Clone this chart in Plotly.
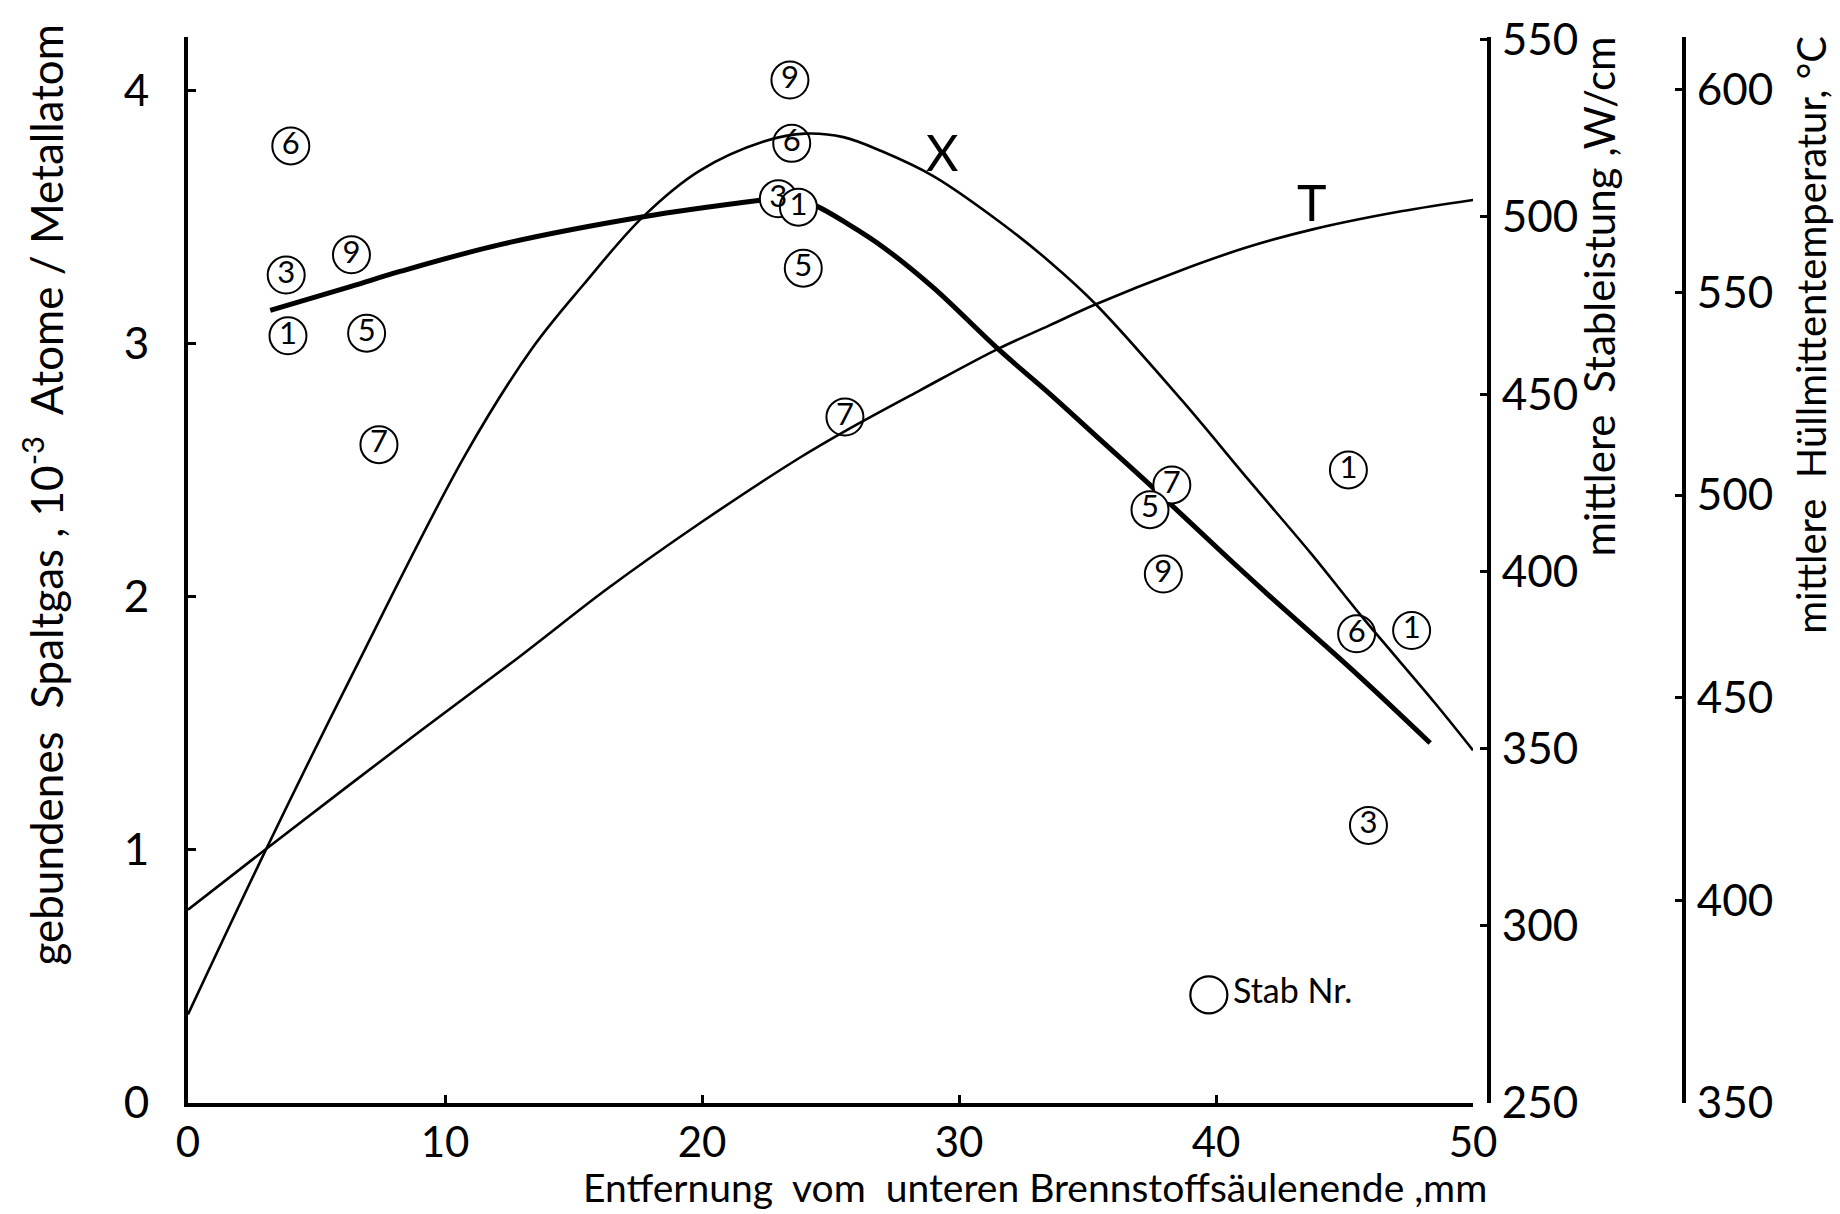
import plotly.graph_objects as go

FONT = "Lato, Roboto, sans-serif"

# bound fission gas fit curve (left axis, 10^-3 atoms per metal atom)
gas_x = [3.2, 6.35, 8.25, 12.14, 17.72, 22.26, 23.4, 24.4, 25.7, 27.05, 29.0,
         31.53, 33.54, 35.49, 37.43, 40.28, 42.0, 45.47, 48.33]
gas_y = [3.13, 3.225, 3.284, 3.39, 3.50, 3.565, 3.578, 3.545, 3.47, 3.38, 3.22,
         2.977, 2.80, 2.62, 2.441, 2.17, 2.01, 1.695, 1.422]

# mean linear rod power X (W/cm)
power_x = [0, 3.0, 6.4, 10.8, 13.4, 15.4, 17.7, 19.9, 22.5, 24.0, 25.5, 27.0,
           29.0, 31.6, 33.5, 35.3, 38.7, 41.3, 43.7, 45.7, 48.5, 50.0]
power_w = [275.0, 321.0, 371.0, 433.0, 463.0, 481.0, 500.0, 513.0, 521.5, 523.5,
           522.5, 518.5, 511.5, 498.5, 487.5, 475.5, 448.0, 425.5, 405.0, 387.0,
           363.0, 349.5]

# mean cladding mid-wall temperature T (deg C)
temp_x = [0, 3.0, 9.0, 13.0, 16.3, 20.0, 23.8, 25.6, 28.5, 31.5, 33.5, 35.3,
          38.7, 41.3, 43.8, 47.2, 50.0]
temp_c = [397.7, 412.5, 441.6, 460.6, 476.8, 493.4, 509.2, 515.9, 525.9, 536.0,
          541.8, 547.0, 555.6, 561.3, 565.6, 570.0, 572.8]

# measured values per rod number
stab_nr = ["6", "3", "9", "1", "5", "7",
           "9", "6", "3", "1", "5", "7",
           "7", "5", "9", "1", "6", "1", "3"]
stab_x = [4.0, 3.82, 6.36, 3.89, 6.95, 7.43,
          23.42, 23.49, 22.97, 23.75, 23.94, 25.56,
          38.28, 37.43, 37.95, 45.15, 45.47, 47.61, 45.93]
stab_y = [3.78, 3.27, 3.35, 3.03, 3.04, 2.60,
          4.04, 3.79, 3.571, 3.538, 3.297, 2.709,
          2.441, 2.343, 2.089, 2.50, 1.853, 1.866, 1.096]

x_ticks = [0, 10, 20, 30, 40, 50]
gas_ticks = [0, 1, 2, 3, 4]
power_ticks = [250, 300, 350, 400, 450, 500, 550]
temp_ticks = [350, 400, 450, 500, 550, 600]

fig = go.Figure()

fig.add_trace(go.Scatter(
    x=power_x, y=power_w, yaxis="y2", mode="lines",
    line=dict(color="black", width=2.6, shape="spline", smoothing=1),
    showlegend=False, hoverinfo="skip"))

fig.add_trace(go.Scatter(
    x=temp_x, y=temp_c, yaxis="y3", mode="lines",
    line=dict(color="black", width=2.6, shape="spline", smoothing=1),
    showlegend=False, hoverinfo="skip"))

fig.add_trace(go.Scatter(
    x=gas_x, y=gas_y, mode="lines",
    line=dict(color="black", width=5, shape="spline", smoothing=1),
    showlegend=False, hoverinfo="skip"))

fig.add_trace(go.Scatter(
    x=stab_x, y=stab_y, mode="markers+text", text=stab_nr,
    textposition="middle center",
    textfont=dict(family=FONT, size=31, color="black"),
    marker=dict(size=37, color="white", line=dict(color="black", width=2)),
    showlegend=False, hoverinfo="skip"))

# key: open circle = rod number
fig.add_trace(go.Scatter(
    x=[39.72], y=[0.427], mode="markers+text", text=["Stab Nr."],
    textposition="middle right",
    textfont=dict(family=FONT, size=34, color="black"),
    marker=dict(size=37, color="white", line=dict(color="black", width=2.2)),
    showlegend=False, hoverinfo="skip"))

axis_common = dict(showgrid=False, zeroline=False, showline=True,
                   linecolor="black", ticks="inside", tickcolor="black")
tick_font = dict(family=FONT, size=44, color="black")

fig.update_layout(
    width=1840, height=1214,
    margin=dict(l=188, r=140, t=29, b=111),
    paper_bgcolor="white", plot_bgcolor="white",
    font=dict(family=FONT, color="black"),
    xaxis=dict(domain=[0, 0.8499], range=[0, 50], tickvals=x_ticks,
               linewidth=4, ticklen=8, tickwidth=3, ticklabelstandoff=0,
               tickfont=dict(family=FONT, size=42, color="black"),
               **axis_common),
    yaxis=dict(range=[0, 4.21], tickvals=gas_ticks, linewidth=4, ticklen=8,
               tickwidth=3, ticklabelstandoff=26, tickfont=tick_font,
               **axis_common),
    yaxis2=dict(range=[250, 550.75], tickvals=power_ticks, overlaying="y",
                anchor="free", position=0.8604, side="right", linewidth=4,
                ticklen=7, tickwidth=3, ticklabelstandoff=2, tickfont=tick_font,
                **axis_common),
    yaxis3=dict(range=[350, 613], tickvals=temp_ticks, overlaying="y",
                anchor="free", position=0.9894, side="right", linewidth=4,
                ticklen=7, tickwidth=3, ticklabelstandoff=2, tickfont=tick_font,
                **axis_common),
)

fig.add_annotation(x=29.33, y=3.754, xref="x", yref="y", text="X",
                   showarrow=False, font=dict(family=FONT, size=50))
fig.add_annotation(x=43.72, y=3.558, xref="x", yref="y", text="T",
                   showarrow=False, font=dict(family=FONT, size=50))

# axis titles: (x, y, angle, font size, text)
titles = [
    (0.5602, -0.0790, 0, 39, "Entfernung  vom  unteren Brennstoffsäulenende ,mm"),
    (-0.0959, 0.5708, -90, 44, "gebundenes  Spaltgas , 10<sup>-3</sup>  Atome / Metallatom"),
    (0.9335, 0.757, -90, 42, "mittlere  Stableistung ,W/cm"),
    (1.0735, 0.7207, -90, 40, "mittlere  Hüllmittentemperatur, °C"),
]
for tx, ty, ang, size, txt in titles:
    fig.add_annotation(x=tx, y=ty, xref="paper", yref="paper", textangle=ang,
                       xanchor="center", yanchor="middle", text=txt,
                       showarrow=False,
                       font=dict(family=FONT, size=size, color="black"))

fig.write_html("out.html")
